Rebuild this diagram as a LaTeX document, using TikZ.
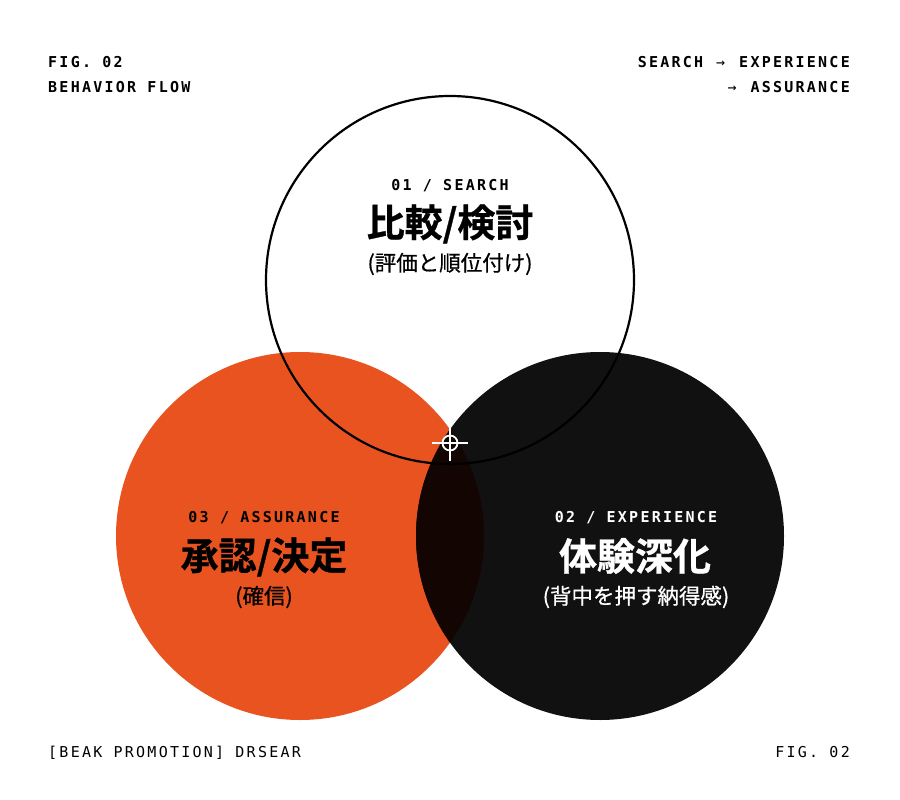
\documentclass[tikz,border=0pt]{standalone}
\usepackage{fontspec}
\setmonofont{DejaVu Sans Mono}[LetterSpace=15]
\newfontfamily\jpfont{Noto Sans CJK JP}[FakeBold=0.6]
\newfontfamily\jpheavy{Noto Sans CJK JP}[UprightFont=* Bold, FakeBold=0.8]
\definecolor{flame}{HTML}{E8531F}
\definecolor{ink}{HTML}{111111}
\definecolor{inkover}{HTML}{120502}

\begin{document}
\begin{tikzpicture}[x=1pt, y=-1pt,
  tag/.style={font=\ttfamily\bfseries\fontsize{15}{18}\selectfont, inner sep=0pt},
  foot/.style={font=\ttfamily\fontsize{15}{18}\selectfont, inner sep=0pt},
  head/.style={font=\jpheavy\fontsize{38}{44}\selectfont, inner sep=0pt},
  sub/.style={font=\jpfont\fontsize{21.5}{26}\selectfont, inner sep=0pt}]
  \useasboundingbox[fill=white] (0,0) rectangle (900,800);

  % Circles
  \coordinate (search) at (450,280);
  \coordinate (assurance) at (300,536);
  \coordinate (experience) at (600,536);
  \fill[flame] (assurance) circle (184pt);
  \fill[ink] (experience) circle (184pt);
  \begin{scope}
    \clip (assurance) circle (184pt);
    \fill[inkover] (experience) circle (184pt);
  \end{scope}
  \draw[line width=2.2pt] (search) circle (184pt);

  % Crosshair
  \coordinate (core) at (450,443);
  \draw[white, line width=1.8pt] (core) circle (7.5pt);
  \draw[white, line width=1.8pt] ([xshift=-18pt]core) -- ([xshift=18pt]core);
  \draw[white, line width=1.8pt] ([yshift=17pt]core) -- ([yshift=-18pt]core);

  % Circle labels
  \node (searchtag) at (450,190) [anchor=base, tag] {01 / SEARCH};
  \node (searchhead) at (450,224) [head] {比較/検討};
  \node (searchsub) at (450,264) [sub] {(評価と順位付け)};

  \node (assuretag) at (264,522) [anchor=base, tag] {03 / ASSURANCE};
  \node (assurehead) at (264,557) [head] {承認/決定};
  \node (assuresub) at (264,597) [sub] {(確信)};

  \node (exptag) at (636,522) [anchor=base, tag, text=white] {02 / EXPERIENCE};
  \node (exphead) at (635,556) [head, text=white] {体験深化};
  \node (expsub) at (636,597) [sub, text=white] {(背中を押す納得感)};

  % Header
  \node (fig) at (48,67) [anchor=base west, tag] {FIG. 02};
  \node (flow) at (48,92.5) [anchor=base west, tag] {BEHAVIOR FLOW};
  \node (path) at (850,67) [anchor=base east, tag]
    {SEARCH\hspace{13pt}{\mdseries →}\hspace{14pt}EXPERIENCE};
  \node (pathend) at (850,92.5) [anchor=base east, tag]
    {{\mdseries →}\hspace{14pt}ASSURANCE};

  % Footer
  \node (credit) at (48,757) [anchor=base west, foot] {[BEAK PROMOTION] DRSEAR};
  \node (figfoot) at (850,757) [anchor=base east, foot] {FIG. 02};
\end{tikzpicture}
\end{document}
